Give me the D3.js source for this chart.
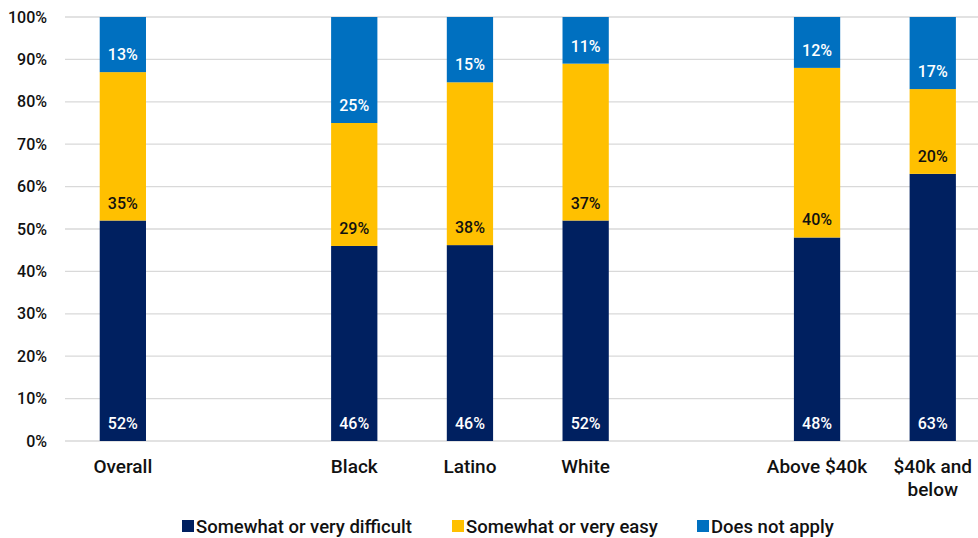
<!DOCTYPE html>
<html>
<head>
<meta charset="utf-8">
<script src="https://cdn.jsdelivr.net/npm/d3@7"></script>
<style>
  html, body { margin: 0; padding: 0; background: #fff; }
  svg { display: block; }
  text { font-family: Roboto, "Noto Sans", sans-serif; font-weight: 500; }
</style>
</head>
<body>
<svg id="chart" width="978" height="538"></svg>
<script>
// ---- data ----
const slots = ["Overall", "_gap1", "Black", "Latino", "White", "_gap2", "Above $40k", "$40k and below"];
const categories = ["Overall", "Black", "Latino", "White", "Above $40k", "$40k and below"];
const difficult = [52, 46, 46.2, 52, 48, 63];
const easy = [35, 29, 38.4, 37, 40, 20];
const notApply = [13, 25, 15.4, 11, 12, 17];
const seriesNames = ["Somewhat or very difficult", "Somewhat or very easy", "Does not apply"];
const yTicks = [0, 10, 20, 30, 40, 50, 60, 70, 80, 90, 100];

const colors = ["#002060", "#FFC000", "#0070C0"];
const labelColors = ["#ffffff", "#111111", "#ffffff"];

const svg = d3.select("#chart");
const plot = { left: 65, right: 990.6, top: 17, bottom: 441 };

const x = d3.scaleBand().domain(slots).range([plot.left, plot.right]).paddingInner(0.6).paddingOuter(0.3);
const y = d3.scaleLinear().domain([0, 100]).range([plot.bottom, plot.top]);

// gridlines
svg.append("g").selectAll("line").data(yTicks).join("line")
  .attr("x1", plot.left).attr("x2", 978)
  .attr("y1", d => y(d)).attr("y2", d => y(d))
  .attr("stroke", "#d9d9d9").attr("stroke-width", 1.3);

// y axis labels
const yAxis = d3.axisLeft(y).tickValues(yTicks).tickFormat(d => d + "%").tickSize(0).tickPadding(0);
const ya = svg.append("g").attr("transform", "translate(47,0)").call(yAxis);
ya.select(".domain").remove();
ya.selectAll("text").attr("font-size", 16).attr("fill", "#111")
  .attr("font-family", "Roboto, sans-serif");

// stack
const rows = categories.map((c, i) => ({ cat: c, s0: difficult[i], s1: easy[i], s2: notApply[i] }));
const stack = d3.stack().keys(["s0", "s1", "s2"])(rows);

const layers = svg.append("g").selectAll("g").data(stack).join("g")
  .attr("fill", (d, i) => colors[i]);
layers.selectAll("rect").data(d => d).join("rect")
  .attr("x", d => x(d.data.cat))
  .attr("width", x.bandwidth())
  .attr("y", d => y(d[1]))
  .attr("height", d => y(d[0]) - y(d[1]));

// labels (inside base)
const lab = svg.append("g").selectAll("g").data(stack).join("g");
lab.each(function(layer, li) {
  d3.select(this).selectAll("text").data(layer).join("text")
    .attr("x", d => x(d.data.cat) + x.bandwidth() / 2)
    .attr("y", d => y(d[0]) - 12)
    .attr("text-anchor", "middle")
    .attr("font-size", 16)
    .attr("fill", labelColors[li])
    .text(d => Math.round(d[1] - d[0]) + "%");
});

// x axis labels
const xAxis = d3.axisBottom(x).tickSize(0).tickPadding(0).tickFormat(d => d.startsWith("_") ? "" : d);
const xa = svg.append("g").attr("transform", `translate(0,${plot.bottom})`).call(xAxis);
xa.select(".domain").remove();
xa.selectAll("text").each(function(d) {
  const t = d3.select(this);
  t.text(null).attr("y", 0).attr("dy", null)
    .attr("font-size", 19).attr("fill", "#111")
    .attr("font-family", "Roboto, sans-serif");
  if (d.startsWith("_")) return;
  const lines = d === "$40k and below" ? ["$40k and", "below"] : [d];
  lines.forEach((ln, k) => t.append("tspan").attr("x", 0).attr("y", 32 + k * 23).text(ln));
});

// legend
const legendX = [182, 452, 697];
const lg = svg.append("g").selectAll("g").data(seriesNames).join("g")
  .attr("transform", (d, i) => `translate(${legendX[i]},520)`);
lg.append("rect").attr("width", 12).attr("height", 12).attr("fill", (d, i) => colors[i]);
lg.append("text").attr("x", 14).attr("y", 12.5).attr("font-size", 18.5)
  .attr("fill", "#111").text(d => d);
</script>
</body>
</html>
